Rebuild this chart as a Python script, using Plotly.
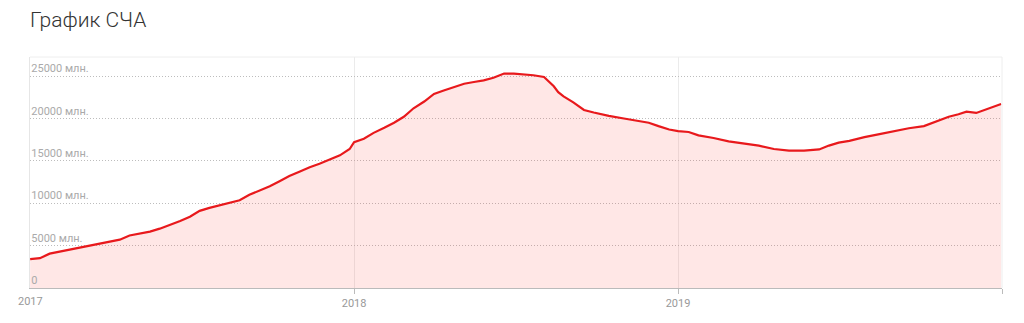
import plotly.graph_objects as go

dates = [
    "2017-01-01", "2017-01-12", "2017-01-23", "2017-02-04", "2017-02-15", "2017-02-26",
    "2017-03-09", "2017-03-21", "2017-04-01", "2017-04-12", "2017-04-23", "2017-05-05",
    "2017-05-16", "2017-05-27", "2017-06-07", "2017-06-19", "2017-06-30", "2017-07-11",
    "2017-07-22", "2017-08-03", "2017-08-14", "2017-08-25", "2017-09-05", "2017-09-17",
    "2017-09-28", "2017-10-09", "2017-10-20", "2017-11-01", "2017-11-12", "2017-11-23",
    "2017-12-04", "2017-12-16", "2017-12-27", "2018-01-01", "2018-01-12", "2018-01-23",
    "2018-02-04", "2018-02-15", "2018-02-26", "2018-03-09", "2018-03-21", "2018-04-01",
    "2018-04-12", "2018-04-23", "2018-05-05", "2018-05-16", "2018-05-27", "2018-06-07",
    "2018-06-19", "2018-06-30", "2018-07-11", "2018-07-22", "2018-08-03", "2018-08-08",
    "2018-08-14", "2018-08-19", "2018-08-25", "2018-09-05", "2018-09-17", "2018-09-28",
    "2018-10-15", "2018-11-01", "2018-11-18", "2018-11-29", "2018-12-10", "2018-12-22",
    "2019-01-01", "2019-01-13", "2019-01-24", "2019-02-10", "2019-02-27", "2019-03-16",
    "2019-04-02", "2019-04-19", "2019-05-06", "2019-05-23", "2019-06-09", "2019-06-20",
    "2019-07-01", "2019-07-13", "2019-07-30", "2019-08-16", "2019-09-01", "2019-09-18",
    "2019-10-05", "2019-10-22", "2019-11-02", "2019-11-13", "2019-11-22", "2019-12-03",
    "2019-12-17", "2019-12-31",
]
nav_mln = [
    3400, 3520, 4050, 4300, 4500, 4750,
    5000, 5250, 5450, 5700, 6200, 6450,
    6650, 7000, 7400, 7900, 8400, 9100,
    9450, 9750, 10050, 10350, 11000, 11500,
    12000, 12600, 13200, 13750, 14250, 14650,
    15100, 15650, 16400, 17200, 17600, 18300,
    18900, 19500, 20200, 21200, 22000, 22900,
    23300, 23700, 24100, 24300, 24500, 24800,
    25300, 25300, 25200, 25100, 24900, 24400,
    23800, 23100, 22600, 21900, 21000, 20700,
    20300, 20000, 19750, 19500, 19100, 18700,
    18500, 18400, 18000, 17700, 17300, 17050,
    16800, 16400, 16200, 16200, 16350, 16800,
    17150, 17350, 17800, 18150, 18500, 18850,
    19100, 19800, 20200, 20500, 20800, 20650,
    21200, 21700,
]

y_tickvals = [0, 5000, 10000, 15000, 20000, 25000]
y_ticktext = ["0", "5000 млн.", "10000 млн.", "15000 млн.", "20000 млн.", "25000 млн."]
x_tickvals = ["2017-01-01", "2018-01-01", "2019-01-01", "2020-01-01"]
x_ticktext = ["2017", "2018", "2019", ""]

fig = go.Figure()
fig.add_trace(go.Scatter(
    x=dates, y=nav_mln, mode="lines",
    line=dict(color="#e8191c", width=2.2),
    fill="tozeroy", fillcolor="rgba(255,60,50,0.12)",
    hoverinfo="skip", showlegend=False,
))

# first year label (plotly suppresses the tick label sitting on the y-axis line)
fig.add_annotation(
    x=x_tickvals[0], xref="x", y=0, yref="paper", yanchor="top",
    yshift=-5, text=x_ticktext[0], showarrow=False,
    font=dict(family="Roboto", size=11, color="#999999"),
)

fig.update_layout(
    width=1024, height=323,
    margin=dict(l=30, r=22, t=57, b=35),
    paper_bgcolor="white", plot_bgcolor="white",
    title=dict(text="График СЧА", x=0, xref="paper", xanchor="left",
               y=1, yref="container", yanchor="top", pad=dict(t=12),
               font=dict(family="Roboto", size=21, color="#333333", weight=300)),
    font=dict(family="Roboto", color="#9a9a9a", size=11),
    xaxis=dict(
        type="date", range=["2016-12-31 20:00", "2020-01-01"],
        tickvals=x_tickvals, ticktext=x_ticktext,
        showgrid=True, gridcolor="#ebebeb", gridwidth=1,
        showline=True, linecolor="#bbbbbb", linewidth=1,
        ticks="outside", ticklen=5, tickcolor="#bbbbbb",
        tickfont=dict(size=11, color="#999999"),
        zeroline=False, fixedrange=True,
    ),
    yaxis=dict(
        range=[0, 27250],
        tickvals=y_tickvals, ticktext=y_ticktext,
        ticklabelposition="inside top",
        showgrid=True, gridcolor="#bdbdbd", griddash="1px,2px", gridwidth=1,
        showline=True, linecolor="#e6e6e6", linewidth=1,
        ticks="", zeroline=False,
        tickfont=dict(size=11, color="#aaaaaa"),
        fixedrange=True,
    ),
    shapes=[
        dict(type="line", xref="paper", yref="paper", x0=0, x1=1, y0=1, y1=1,
             line=dict(color="#eeeeee", width=1)),
        dict(type="line", xref="paper", yref="paper", x0=1, x1=1, y0=0, y1=1,
             line=dict(color="#eeeeee", width=1)),
    ],
)

fig.write_html("out.html")
